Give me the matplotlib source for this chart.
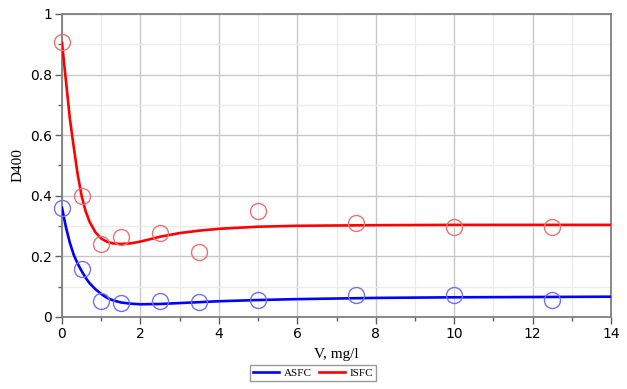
import matplotlib
matplotlib.use("Agg")
import matplotlib.pyplot as plt
from matplotlib.ticker import MultipleLocator, FuncFormatter

# ── Data ─────────────────────────────────────────────────────────────────────
conc = [0, 0.5, 1, 1.5, 2.5, 3.5, 5, 7.5, 10, 12.5]
asfc_pts = [0.36, 0.16, 0.054, 0.046, 0.052, 0.048, 0.056, 0.071, 0.071, 0.056]
isfc_pts = [0.907, 0.40, 0.24, 0.264, 0.276, 0.215, 0.35, 0.31, 0.296, 0.296]

# fitted curves
fit_x = [0, 0.1, 0.2, 0.3, 0.4, 0.5, 0.6, 0.7, 0.85, 1.0, 1.15, 1.3, 1.5, 1.75,
         2.0, 2.5, 3.0, 3.5, 4.0, 5.0, 6.0, 7.0, 8.0, 10.0, 12.0, 14.0]
asfc_fit = [0.36, 0.297, 0.245, 0.205, 0.176, 0.152, 0.130, 0.112, 0.092, 0.076,
            0.063, 0.055, 0.048, 0.044, 0.042, 0.043, 0.046, 0.049, 0.052, 0.056,
            0.059, 0.061, 0.063, 0.065, 0.066, 0.067]
isfc_fit = [0.905, 0.78, 0.655, 0.56, 0.47, 0.40, 0.35, 0.315, 0.28, 0.259,
            0.248, 0.243, 0.241, 0.243, 0.249, 0.265, 0.277, 0.285, 0.291, 0.298,
            0.301, 0.302, 0.303, 0.304, 0.304, 0.304]

# ── Figure ───────────────────────────────────────────────────────────────────
fig = plt.figure(figsize=(6.27, 3.89), dpi=100)
ax = fig.add_axes([62 / 627, 1 - 317 / 389, 549 / 627, 303 / 389])

ax.plot(fit_x, asfc_fit, color="#0000ff", lw=1.9, label="ASFC", zorder=3)
ax.plot(fit_x, isfc_fit, color="#ff0000", lw=1.9, label="ISFC", zorder=3)
ax.plot(conc, asfc_pts, "o", ms=11.5, mfc="none", mec="#7070f0", mew=1.0,
        zorder=4, clip_on=False)
ax.plot(conc, isfc_pts, "o", ms=11.5, mfc="none", mec="#f07070", mew=1.0,
        zorder=4, clip_on=False)

ax.set_xlim(0, 14)
ax.set_ylim(0, 1)
ax.xaxis.set_major_locator(MultipleLocator(2))
ax.xaxis.set_minor_locator(MultipleLocator(1))
ax.yaxis.set_major_locator(MultipleLocator(0.2))
ax.yaxis.set_minor_locator(MultipleLocator(0.1))
ax.yaxis.set_major_formatter(FuncFormatter(lambda v, p: f"{v:g}"))

ax.grid(which="major", color="#c8c8c8", lw=1.0)
ax.grid(which="minor", color="#ececec", lw=1.0)
ax.set_axisbelow(True)

for side in ax.spines.values():
    side.set_color("#808080")
    side.set_linewidth(1.3)
ax.tick_params(which="major", length=5, width=1, color="#606060",
               labelsize=10, pad=2)
ax.tick_params(which="minor", length=3, width=1, color="#606060")

ax.set_xlabel("V, mg/l", family="Liberation Serif", fontsize=11, labelpad=5)
ax.set_ylabel("D400", family="Liberation Serif", fontsize=11, labelpad=4)

leg = fig.legend(loc="center", bbox_to_anchor=(313 / 627, 1 - 373 / 389),
                 ncol=2, frameon=True, fancybox=False, edgecolor="#808080",
                 prop={"family": "Liberation Serif", "size": 8},
                 handlelength=2.4, handletextpad=0.4, columnspacing=0.6,
                 borderpad=0.25, borderaxespad=0)
leg.get_frame().set_linewidth(1.0)

fig.savefig("out.png", dpi=100)
